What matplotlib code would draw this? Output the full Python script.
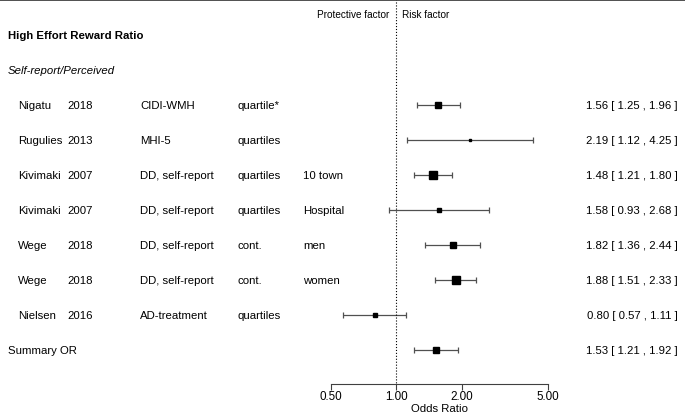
import numpy as np
import matplotlib.pyplot as plt

plt.rcParams['font.family'] = ['Liberation Sans', 'DejaVu Sans']

# study rows
authors = ["Nigatu", "Rugulies", "Kivimaki", "Kivimaki", "Wege", "Wege", "Nielsen"]
years = ["2018", "2013", "2007", "2007", "2018", "2018", "2016"]
measures = ["CIDI-WMH", "MHI-5", "DD, self-report", "DD, self-report",
            "DD, self-report", "DD, self-report", "AD-treatment"]
exposure = ["quartile*", "quartiles", "quartiles", "quartiles", "cont.", "cont.", "quartiles"]
groups = ["", "", "10 town", "Hospital", "men", "women", ""]
odds = [1.56, 2.19, 1.48, 1.58, 1.82, 1.88, 0.80]
lower = [1.25, 1.12, 1.21, 0.93, 1.36, 1.51, 0.57]
upper = [1.96, 4.25, 1.80, 2.68, 2.44, 2.33, 1.11]
weights = [5.0, 1.5, 6.0, 2.3, 3.8, 5.2, 3.3]   # marker size ~ study weight

# summary
sum_or, sum_lo, sum_hi = 1.53, 1.21, 1.92

ticks = [0.5, 1.0, 2.0, 5.0]
tick_labels = ["0.50", "1.00", "2.00", "5.00"]

W, H = 685, 414
fig = plt.figure(figsize=(W / 100, H / 100), dpi=100)
ax = fig.add_axes([0, 0, 1, 1])
ax.set_xscale('log')

# 0.50 at 331px, 5.00 at 548px
ppd = (548 - 331) / 1.0
ax.set_xlim(10 ** (np.log10(0.5) - 331 / ppd), 10 ** (np.log10(5) + (W - 548) / ppd))
# row k centred at 36 + 35*k px
ax.set_ylim((H - 36) / 35, -36 / 35)

tr = ax.get_yaxis_transform()
fs = 8.2

ax.text(8 / W, 0, "High Effort Reward Ratio", transform=tr, fontsize=fs,
        fontweight='bold', va='center')
ax.text(8 / W, 1, "Self-report/Perceived", transform=tr, fontsize=fs,
        style='italic', va='center')

rows = np.arange(len(odds)) + 2
cols = [(18, authors), (67, years), (140, measures), (238, exposure), (303, groups)]
for xpx, vals in cols:
    for r, v in zip(rows, vals):
        ax.text(xpx / W, r, v, transform=tr, fontsize=fs, va='center')

for r, o, lo, hi, w in zip(rows, odds, lower, upper, weights):
    ax.errorbar(o, r, xerr=[[o - lo], [hi - o]], fmt='none', ecolor='#505050',
                elinewidth=0.9, capsize=2.3, capthick=0.9)
    ax.plot(o, r, marker='s', color='black', markersize=w, linestyle='none')
    ax.text(678 / W, r, f"{o:.2f} [ {lo:.2f} , {hi:.2f} ]", transform=tr,
            fontsize=fs, va='center', ha='right')

srow = rows[-1] + 1
ax.text(8 / W, srow, "Summary OR", transform=tr, fontsize=fs, va='center')
ax.errorbar(sum_or, srow, xerr=[[sum_or - sum_lo], [sum_hi - sum_or]], fmt='none',
            ecolor='#505050', elinewidth=0.9, capsize=2.3, capthick=0.9)
ax.plot(sum_or, srow, marker='s', color='black', markersize=4, linestyle='none')
ax.text(678 / W, srow, f"{sum_or:.2f} [ {sum_lo:.2f} , {sum_hi:.2f} ]", transform=tr,
        fontsize=fs, va='center', ha='right')

axis_row = (385 - 36) / 35
ax.vlines(1.0, -36 / 35, axis_row, colors='black', linestyles=':', linewidth=0.8)
ax.text(0.93, -0.6, "Protective factor", fontsize=7.2, ha='right', va='center')
ax.text(1.065, -0.6, "Risk factor", fontsize=7.2, ha='left', va='center')

# axis
for s in ['left', 'right']:
    ax.spines[s].set_visible(False)
ax.spines['top'].set_color('#404040')
ax.spines['top'].set_linewidth(2)
ax.spines['bottom'].set_position(('data', axis_row))
ax.spines['bottom'].set_bounds(0.5, 5)
ax.spines['bottom'].set_color('#404040')
ax.set_yticks([])
ax.set_xticks(ticks)
ax.set_xticklabels(tick_labels)
ax.minorticks_off()
ax.tick_params(axis='x', direction='out', length=4, pad=0, labelsize=8.4, color='#404040')
ax.text(np.sqrt(0.5 * 5), (409 - 36) / 35, "Odds Ratio", fontsize=fs, ha='center', va='center')

fig.savefig("out.png", dpi=100)
